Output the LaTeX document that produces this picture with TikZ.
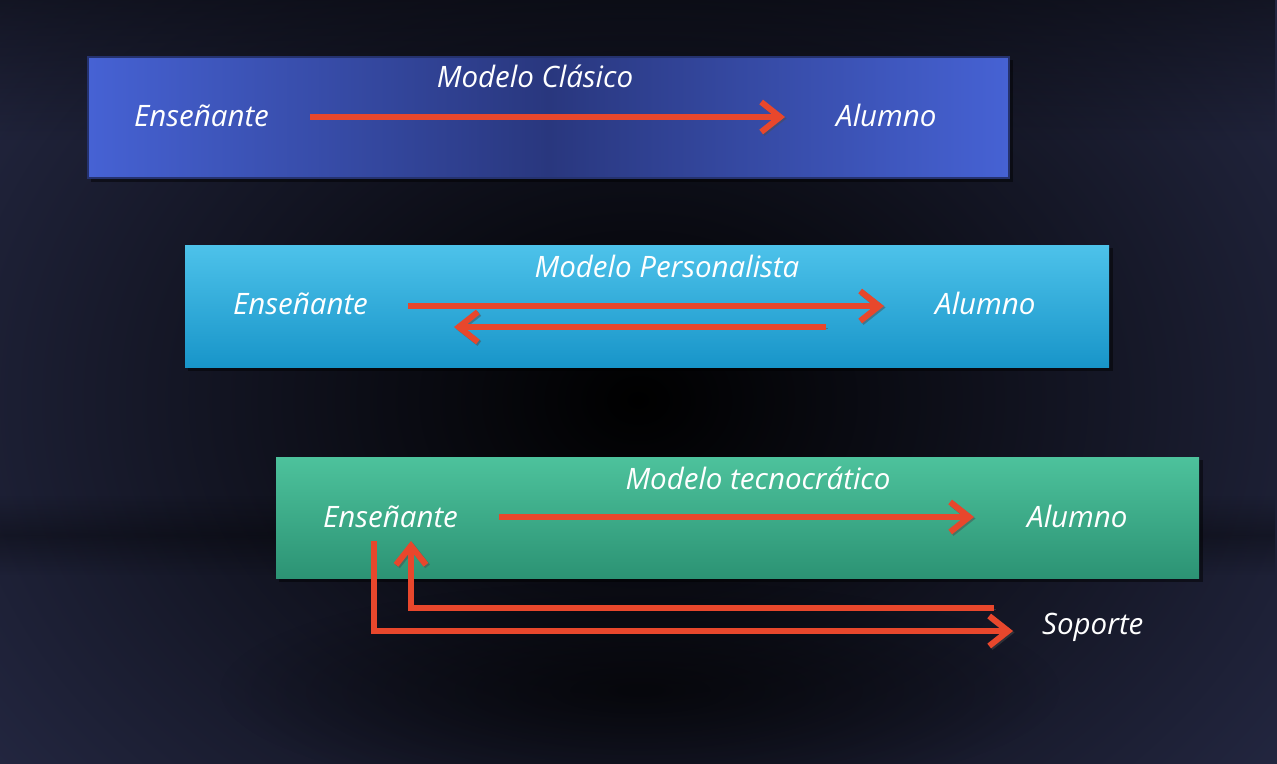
\documentclass[tikz,border=0pt]{standalone}
\usepackage{fontspec}
\setmainfont{Open Sans}
\usetikzlibrary{arrows.meta,fadings}
\definecolor{bgedge}{HTML}{272B48}
\definecolor{arrred}{HTML}{E8472C}
\definecolor{bAedge}{HTML}{4662D4}
\definecolor{bAmid}{HTML}{29377E}
\definecolor{bAline}{HTML}{25326E}
\definecolor{bBtop}{HTML}{4DC2EA}
\definecolor{bBbot}{HTML}{1895C9}
\definecolor{bCtop}{HTML}{4DC29C}
\definecolor{bCbot}{HTML}{2C9374}
\tikzfading[name=myfadeout, inner color=transparent!0, outer color=transparent!100]
\tikzset{
  lbl/.style={text=white, font=\fontsize{29.5}{34}\selectfont\itshape, inner sep=0pt, anchor=base west},
  ttl/.style={text=white, font=\fontsize{29.5}{34}\selectfont\itshape, inner sep=0pt, anchor=base},
  arr/.style={draw=arrred, line width=6.3pt, line cap=butt,
    -{Straight Barb[length=19pt,width=30pt,line width=6pt]},
    preaction={draw=black!70, opacity=0.5, transform canvas={shift={(1.5pt,-1.5pt)}}}},
  boxshadow/.style={fill=black, opacity=0.45}
}
\begin{document}
\begin{tikzpicture}[x=1pt,y=-1pt]
\useasboundingbox (0,0) rectangle (1277,763);
\begin{scope}
\clip (0,0) rectangle (1277,763);
% background
\fill[bgedge] (0,0) rectangle (1277,763);
\shade[inner color=black, outer color=bgedge] (638,400) ellipse (900 and 700);
\fill[black, opacity=0.45, path fading=south] (0,0) rectangle (1277,140);
\fill[black, opacity=0.3, path fading=north] (0,495) rectangle (1277,535);
\fill[black, opacity=0.3, path fading=south] (0,535) rectangle (1277,575);
\fill[black, opacity=0.6, path fading=myfadeout] (640,690) ellipse (420 and 110);
\end{scope}
% box 1
\fill[boxshadow] (91,60) rectangle (1013,182);
\shade[left color=bAedge, right color=bAedge, middle color=bAmid, draw=bAline, line width=1.5pt] (88,57) rectangle (1009,178);
% box 2
\fill[boxshadow] (188,248) rectangle (1113,371);
\shade[top color=bBtop, bottom color=bBbot] (185,245) rectangle (1109,367);
% box 3
\fill[boxshadow] (279,460) rectangle (1203,582);
\shade[top color=bCtop, bottom color=bCbot] (276,457) rectangle (1199,578);

% texts box 1
\node[ttl] (t1) at (535,87) {Modelo Clásico};
\node[lbl] (e1) at (134,126) {Enseñante};
\node[lbl] (a1) at (836,126) {Alumno};
% texts box 2
\node[ttl] (t2) at (667,277) {Modelo Personalista};
\node[lbl] (e2) at (233,314) {Enseñante};
\node[lbl] (a2) at (935,314) {Alumno};
% texts box 3
\node[ttl] (t3) at (758,489) {Modelo tecnocrático};
\node[lbl] (e3) at (323,527) {Enseñante};
\node[lbl] (a3) at (1027,527) {Alumno};
\node[lbl] (s3) at (1042,634) {Soporte};

% arrows
\draw[arr] (310,117) -- (785,117);
\draw[arr] (408,306) -- (884,306);
\draw[arr] (826,327) -- (454,327);
\draw[arr] (499,517) -- (974,517);
\draw[arr] (374,541) -- (374,631) -- (1013,631);
\draw[arr] (994,608) -- (411,608) -- (411,541);
\end{tikzpicture}
\end{document}
